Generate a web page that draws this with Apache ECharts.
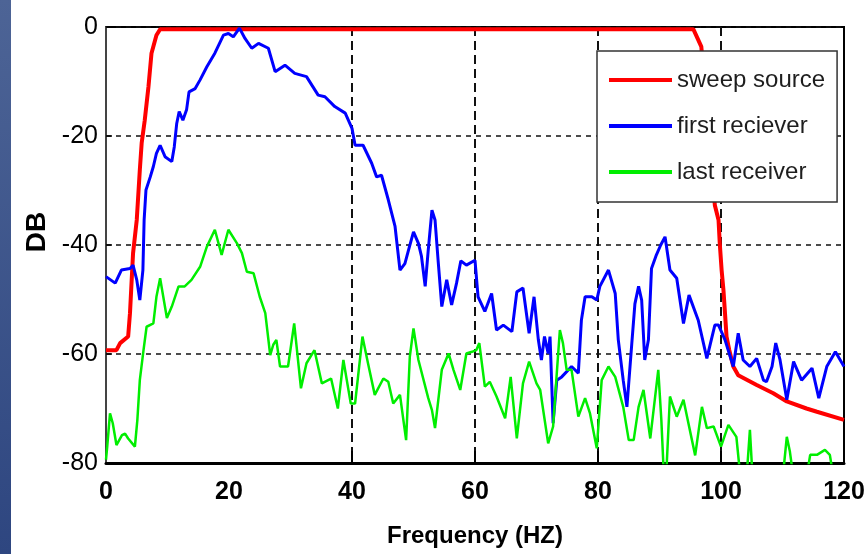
<!DOCTYPE html>
<html>
<head>
<meta charset="utf-8">
<title>Frequency response</title>
<script src="https://cdn.jsdelivr.net/npm/echarts@6/dist/echarts.min.js"></script>
<style>
  html, body { margin: 0; padding: 0; background: #fff; }
  #chart { width: 868px; height: 554px; }
</style>
</head>
<body>
<div id="chart"></div>
<script>
// Spectrum of the sweep source and of the first / last receivers (dB vs Hz)
const seriesNames = ['sweep source', 'first reciever', 'last receiver'];

const xTickLabels = [0, 20, 40, 60, 80, 100, 120];
const xGridTicks = [40, 60, 80, 100];

const sweepFreq = [0, 1.7, 2.3, 3.6, 3.9, 4.4, 5.0, 5.5, 5.8, 6.3, 6.9, 7.4, 8.2, 8.8,
  95.5, 96.8, 99.0, 99.6, 99.8, 100.1, 100.4, 100.65, 100.9, 101.35, 102.0, 102.8,
  105.8, 108.5, 110.7, 113.9, 115.6, 120];
const sweepDb = [-59.3, -59.3, -58.0, -56.8, -52.5, -41.5, -35.4, -26.2, -21.3, -17.1, -11.0, -4.8, -1.5, -0.4,
  -0.4, -3.6, -32.7, -35.4, -39.7, -44.6, -48.3, -52.5, -56.8, -59.3, -62.3, -63.9,
  -65.7, -67.2, -68.7, -70.0, -70.6, -72.1];

const firstFreq = [0, 1.5, 2.5, 3.9, 4.4, 5.0, 5.5, 6.0, 6.2, 6.5, 7.2, 7.7, 8.2, 8.8, 9.6, 10.7,
  11.1, 11.5, 11.9, 12.5, 13.1, 13.5, 14.5, 15.3, 16.4, 17.7, 19.1, 19.9, 20.7, 21.7, 22.6,
  23.7, 24.8, 26.4, 27.5, 29.1, 30.7, 32.6, 34.5, 35.6, 37.2, 38.9, 40.0, 40.5, 41.8, 43.2,
  44.0, 44.8, 45.9, 47.0, 47.8, 48.6, 49.2, 50.0, 50.8, 51.3, 51.9, 52.4, 53.0, 53.5, 54.0,
  54.6, 55.4, 56.2, 57.0, 57.7, 58.6, 60.0, 60.5, 61.6, 62.7, 63.5, 64.6, 66.0, 66.8, 67.8,
  68.8, 69.6, 70.3, 70.8, 71.3, 71.9, 72.2, 72.7, 73.3, 74.1, 75.7, 76.8, 77.3, 77.9, 79.0,
  79.8, 80.3, 81.7, 82.8, 83.3, 84.1, 84.7, 85.5, 86.0, 86.6, 87.1, 87.6, 88.2, 88.7, 89.5,
  90.2, 90.9, 91.7, 92.8, 93.9, 94.8, 96.3, 97.7, 99.0, 99.6, 100.65, 102.0, 102.8, 103.6,
  104.7, 105.8, 106.9, 107.4, 108.3, 108.9, 109.6, 110.7, 111.8, 113.1, 114.8, 115.9, 117.2,
  118.6, 120];
const firstDb = [-45.8, -47.0, -44.6, -44.3, -43.7, -46.4, -50.1, -44.6, -35.4, -29.9, -27.5, -25.6, -23.2, -21.7, -23.8, -24.7,
  -22.0, -17.7, -15.5, -17.1, -15.2, -11.9, -11.3, -9.7, -7.3, -4.8, -1.5, -1.2, -1.8, -0.2, -2.1,
  -3.9, -3.0, -3.9, -8.2, -7.0, -8.5, -9.1, -12.5, -12.8, -14.6, -15.8, -18.6, -21.7, -21.7, -25.0,
  -27.5, -27.2, -31.7, -36.6, -44.6, -43.4, -40.9, -37.6, -39.7, -42.1, -47.6, -40.9, -33.6, -35.4, -42.8,
  -51.3, -46.4, -51.0, -47.0, -42.9, -43.7, -42.8, -49.5, -52.2, -48.9, -55.6, -54.7, -55.9, -48.6, -47.9,
  -56.2, -49.5, -57.4, -61.1, -56.8, -59.9, -56.8, -72.7, -64.8, -64.2, -62.3, -63.5, -53.8, -49.5, -49.5,
  -50.1, -47.6, -44.6, -48.9, -57.4, -64.8, -69.7, -58.0, -50.8, -47.6, -50.1, -61.1, -57.4, -44.3, -41.8,
  -40.0, -38.5, -44.6, -46.1, -54.4, -49.2, -53.8, -60.8, -54.7, -54.7, -57.4, -62.3, -56.2, -61.1,
  -62.3, -60.8, -64.8, -65.1, -62.3, -58.0, -61.1, -68.4, -61.4, -64.8, -62.6, -68.1, -62.3,
  -59.6, -62.3];

const lastFreq = [0, 0.2, 0.65, 1.1, 1.7, 2.6, 3.1, 3.6, 4.7, 5.1, 5.5, 6.1, 6.6, 7.7, 8.2, 8.8,
  9.9, 10.7, 11.8, 12.8, 13.9, 15.3, 16.4, 17.7, 18.8, 19.9, 21.3, 22.1, 22.9, 24.0, 25.0,
  25.9, 26.7, 27.2, 27.7, 28.3, 29.6, 30.6, 31.7, 32.6, 33.9, 35.1, 36.6, 37.7, 38.6, 39.8,
  40.5, 41.7, 42.6, 43.7, 45.1, 45.9, 46.7, 47.8, 48.8, 49.4, 50.0, 50.8, 52.4, 53.0, 53.5,
  54.6, 55.7, 56.5, 57.6, 58.6, 59.5, 60.2, 60.7, 61.6, 62.4, 63.5, 64.9, 65.8, 66.8, 67.8,
  68.8, 70.0, 70.6, 71.9, 72.7, 73.3, 73.8, 74.3, 74.9, 75.7, 76.8, 77.9, 78.7, 79.8, 80.6,
  81.7, 82.8, 84.1, 85.0, 85.8, 86.6, 87.4, 88.5, 89.8, 90.3, 90.7, 91.1, 91.7, 92.8, 93.9,
  95.8, 96.9, 97.7, 98.8, 100.0, 101.2, 102.5, 103.1, 104.2, 104.7, 105.1, 110.1, 110.7, 111.2,
  111.7, 114.0, 114.5, 115.6, 116.9, 117.7, 118.2, 120];
const lastDb = [-79.4, -77.0, -70.9, -72.7, -76.7, -74.9, -74.6, -75.5, -77.0, -72.1, -64.8, -59.3, -55.0, -54.4, -49.5, -46.1,
  -53.4, -51.3, -47.6, -47.6, -46.4, -44.0, -40.3, -37.2, -41.8, -37.2, -39.7, -41.5, -44.9, -45.2, -49.5,
  -52.5, -60.2, -58.3, -57.4, -62.3, -62.3, -54.4, -66.3, -61.7, -59.3, -65.4, -64.5, -70.0, -61.1, -69.1,
  -69.1, -56.8, -61.7, -67.5, -64.5, -65.1, -69.1, -67.5, -75.8, -60.5, -55.3, -61.1, -68.1, -70.3, -73.6,
  -62.9, -59.9, -62.9, -66.6, -59.9, -59.6, -59.3, -58.0, -66.0, -65.1, -67.8, -71.8, -64.2, -75.5, -65.4,
  -61.4, -65.4, -66.6, -76.4, -73.3, -63.5, -55.6, -58.0, -62.9, -62.9, -71.5, -68.1, -70.9, -77.3, -64.8,
  -62.3, -64.2, -69.7, -75.8, -75.8, -69.7, -66.6, -75.5, -62.9, -72.1, -82, -82, -67.8, -71.5, -68.4,
  -78.6, -69.7, -73.6, -73.3, -77.0, -73.0, -75.2, -82, -82, -73.9, -82, -82, -75.2, -77.9,
  -82, -82, -78.5, -78.5, -77.6, -78.5, -82, -82];

const seriesColors = ['#ff0000', '#0000ff', '#00ee00'];
const seriesWidths = [4, 3, 2.5];

const pairs = (xs, ys) => xs.map((x, i) => [x, ys[i]]);
const seriesData = [pairs(sweepFreq, sweepDb), pairs(firstFreq, firstDb), pairs(lastFreq, lastDb)];

const FONT = "'Liberation Sans', Arial, sans-serif";

const chart = echarts.init(document.getElementById('chart'), null, { renderer: 'canvas' });

chart.setOption({
  animation: false,
  backgroundColor: '#ffffff',
  graphic: [{
    type: 'rect',
    left: 0, top: 0,
    shape: { width: 11, height: 554 },
    style: {
      fill: new echarts.graphic.LinearGradient(0, 0, 0, 1, [
        { offset: 0, color: '#4d6496' },
        { offset: 1, color: '#2e4680' }
      ])
    },
    silent: true
  }],
  grid: {
    left: 106, right: 24, top: 27, bottom: 91,
    show: true, borderColor: '#000', borderWidth: 2, backgroundColor: 'transparent'
  },
  legend: {
    orient: 'vertical',
    left: 597, top: 51,
    padding: [14, 12, 15, 12],
    itemWidth: 63, itemHeight: 4, itemGap: 16,
    icon: 'rect',
    backgroundColor: '#ffffff',
    borderColor: '#333', borderWidth: 1.5, borderRadius: 0,
    textStyle: { fontFamily: FONT, fontSize: 24, color: '#1e1e1e', lineHeight: 30 },
    data: seriesNames
  },
  xAxis: {
    type: 'value', min: 0, max: 120, interval: 20,
    name: 'Frequency (HZ)', nameLocation: 'middle', nameGap: 61,
    nameTextStyle: { fontFamily: FONT, fontWeight: 'bold', fontSize: 24, color: '#000' },
    axisLine: { show: true, onZero: false, lineStyle: { color: '#000', width: 3 } },
    axisTick: { show: true, inside: true, length: 12, customValues: xGridTicks, lineStyle: { color: '#000', width: 2 } },
    axisLabel: { customValues: xTickLabels, margin: 17, fontFamily: FONT, fontWeight: 'bold', fontSize: 25, color: '#000' },
    splitLine: { show: true, lineStyle: { color: '#111', width: 2, type: [9, 5] } }
  },
  yAxis: {
    type: 'value', min: -80, max: 0, interval: 20,
    name: 'DB', nameLocation: 'middle', nameGap: 50, nameRotate: 90,
    nameTextStyle: { fontFamily: FONT, fontWeight: 'bold', fontSize: 28, color: '#000', padding: [0, 0, 0, 26] },
    axisLine: { show: true, onZero: false, lineStyle: { color: '#444', width: 2 } },
    axisTick: { show: true, inside: true, length: 6, lineStyle: { color: '#000', width: 1.5 } },
    axisLabel: { margin: 8, fontFamily: FONT, fontSize: 25, color: '#000' },
    splitLine: { show: true, lineStyle: { color: '#111', width: 1.5, type: [5, 5] } }
  },
  series: seriesNames.map((name, i) => ({
    name,
    type: 'line',
    data: seriesData[i],
    showSymbol: false,
    symbol: 'none',
    clip: true,
    color: seriesColors[i],
    lineStyle: { color: seriesColors[i], width: seriesWidths[i] },
    z: 2 + i
  }))
});
</script>
</body>
</html>
